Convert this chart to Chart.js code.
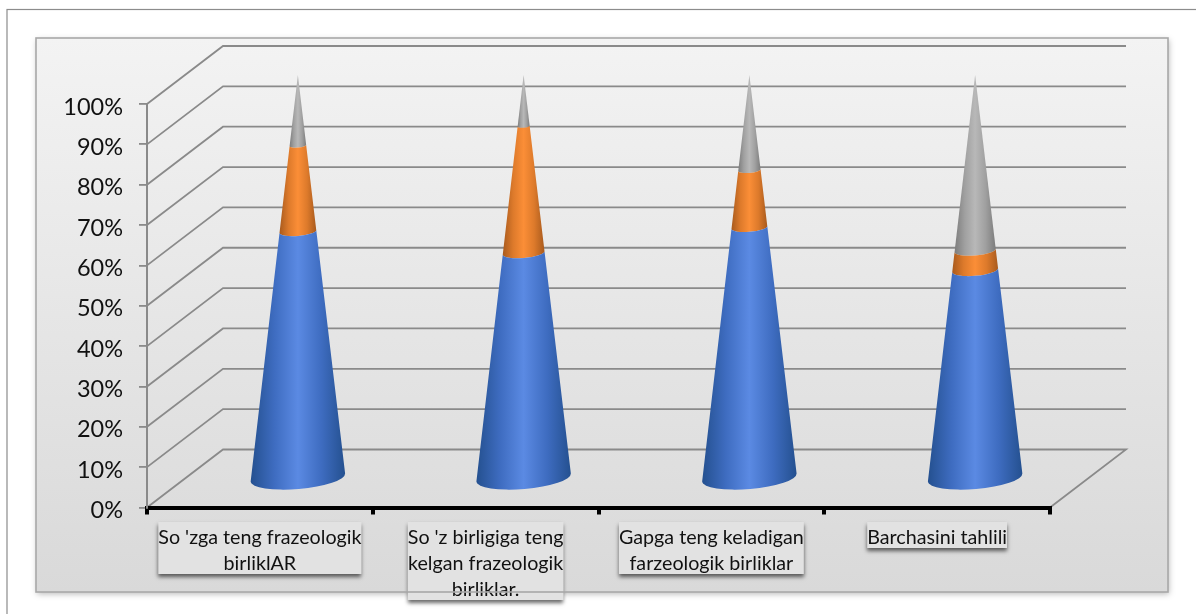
<!DOCTYPE html>
<html lang="uz">
<head>
<meta charset="UTF-8">
<title>Frazeologik birliklar</title>
<script src="https://cdn.jsdelivr.net/npm/chart.js"></script>
<style>
    html, body { margin: 0; padding: 0; background: #fff; }
    #wrap { width: 1196px; height: 614px; }
</style>
</head>
<body>
<div id="wrap"><canvas id="grafik" width="1196" height="614"></canvas></div>
<script>
const categories = [
    ["So 'zga teng frazeologik", "birliklAR"],
    ["So 'z birligiga teng", "kelgan frazeologik", "birliklar."],
    ["Gapga teng keladigan", "farzeologik birliklar"],
    ["Barchasini tahlili"]
];
const seriesBlue = [61.2, 55.9, 62.2, 51.6];
const seriesOrange = [21.3, 31.4, 14.2, 4.9];
const seriesGray = [17.5, 12.7, 23.6, 43.5];

const labelFont = "Lato, 'Open Sans', sans-serif";
const depthX = 76, depthY = -58;      // offset of the back wall from the front plane
const coneRadius = 47.5, coneTilt = -0.085, coneFlat = 0.24;

// edge / middle colours of each cone segment
const shades = [
    ['#24508f', '#3e6cc0', '#5b8ae3', '#3e6cc0', '#24508f'],
    ['#a85a1d', '#dd7a2b', '#fb8e37', '#dd7a2b', '#a85a1d'],
    ['#7c7c7c', '#a0a0a0', '#b8b8b8', '#a0a0a0', '#7c7c7c']
];

function fundo(ctx) {
    // outer frame
    ctx.strokeStyle = '#8c8c8c';
    ctx.lineWidth = 1.2;
    ctx.strokeRect(7, 9.5, 1400, 1400);
    // panel
    ctx.save();
    ctx.shadowColor = 'rgba(0,0,0,0.28)';
    ctx.shadowBlur = 6;
    ctx.shadowOffsetX = 1;
    ctx.shadowOffsetY = 2;
    const g = ctx.createLinearGradient(0, 38, 0, 592);
    g.addColorStop(0, '#f3f3f3');
    g.addColorStop(1, '#d9d9d9');
    ctx.fillStyle = g;
    ctx.fillRect(36, 38, 1132, 554);
    ctx.restore();
}

function paredes(chart) {
    const ctx = chart.ctx, y = chart.scales.y, x = chart.scales.x;
    ctx.save();
    ctx.strokeStyle = '#8a8a8a';
    ctx.lineWidth = 1.8;
    y.ticks.forEach(function (t) {
        const py = y.getPixelForValue(t.value);
        ctx.beginPath();
        ctx.moveTo(x.left, py);
        ctx.lineTo(x.left + depthX, py + depthY);
        ctx.lineTo(x.right + depthX, py + depthY);
        if (t.value === 0) ctx.lineTo(x.right, py);
        ctx.stroke();
    });
    ctx.restore();
}

function caixas(chart) {
    const ctx = chart.ctx, x = chart.scales.x;
    ctx.save();
    ctx.font = x.options.ticks.font.size + 'px ' + labelFont;
    categories.forEach(function (linhas, i) {
        const w = Math.max.apply(null, linhas.map(l => ctx.measureText(l).width));
        const cx = x.getPixelForValue(i);
        ctx.save();
        ctx.shadowColor = 'rgba(0,0,0,0.6)';
        ctx.shadowBlur = 4;
        ctx.shadowOffsetY = 3;
        ctx.fillStyle = '#e2e2e2';
        ctx.fillRect(cx - w / 2, 522, w, linhas.length * 26);
        ctx.restore();
    });
    ctx.restore();
}

function cone(chart, ctx, el, k) {
    const y = chart.scales.y;
    const cx = el.x + depthX / 2;
    const yBase = y.getPixelForValue(0) + depthY / 2;
    const yApex = y.getPixelForValue(100) + depthY / 2;
    const yLow = el.base + depthY / 2, yHigh = el.y + depthY / 2;
    const rLow = coneRadius * (yLow - yApex) / (yBase - yApex);
    const rHigh = coneRadius * (yHigh - yApex) / (yBase - yApex);

    const g = ctx.createLinearGradient(cx - rLow, 0, cx + rLow, 0);
    shades[k].forEach((c, i) => g.addColorStop(i / 4, c));
    ctx.fillStyle = g;
    ctx.beginPath();
    ctx.ellipse(cx, yLow, rLow, rLow * coneFlat, coneTilt, 0, Math.PI);
    if (rHigh > 0.5) {
        ctx.ellipse(cx, yHigh, rHigh, rHigh * coneFlat, coneTilt, Math.PI, 0, true);
    } else {
        ctx.lineTo(cx, yHigh);
    }
    ctx.closePath();
    ctx.fill();
}

const conePlugin = {
    id: 'conePlugin',
    beforeDraw(chart) {
        fundo(chart.ctx);
        paredes(chart);
        caixas(chart);
    },
    beforeDatasetDraw(chart, args) {
        const ctx = chart.ctx;
        ctx.save();
        args.meta.data.forEach(el => cone(chart, ctx, el, args.index));
        ctx.restore();
        return false;
    },
    afterDraw(chart) {
        const ctx = chart.ctx;
        ctx.strokeStyle = '#a8a8a8';
        ctx.lineWidth = 1.6;
        ctx.strokeRect(36, 38, 1132, 554);
    }
};

new Chart(document.getElementById('grafik'), {
    type: 'bar',
    data: {
        labels: categories,
        datasets: [
            { label: 'Blue', data: seriesBlue, backgroundColor: '#4472c4' },
            { label: 'Orange', data: seriesOrange, backgroundColor: '#ed7d31' },
            { label: 'Gray', data: seriesGray, backgroundColor: '#a5a5a5' }
        ]
    },
    plugins: [conePlugin],
    options: {
        responsive: false,
        animation: false,
        events: [],
        layout: { padding: { left: 40, right: 146, top: 104, bottom: 0 } },
        plugins: { legend: { display: false }, tooltip: { enabled: false } },
        scales: {
            x: {
                stacked: true,
                afterFit(s) { s.height = 106.5; },
                border: { color: '#000', width: 4 },
                grid: { drawOnChartArea: false, color: '#000', lineWidth: 4, tickLength: 7 },
                ticks: {
                    autoSkip: false, maxRotation: 0, minRotation: 0, padding: 10,
                    color: '#111',
                    font: { family: labelFont, size: 19.7, lineHeight: '26px' }
                }
            },
            y: {
                stacked: true,
                min: 0,
                max: 100,
                afterFit(s) { s.width = 107; },
                border: { color: '#8a8a8a', width: 2 },
                grid: { drawOnChartArea: false, color: '#8a8a8a', lineWidth: 1.8, tickLength: 8 },
                ticks: {
                    stepSize: 10, padding: 16, labelOffset: 3, color: '#111',
                    font: { family: labelFont, size: 23.5 },
                    callback: v => v + '%'
                }
            }
        }
    }
});
</script>
</body>
</html>
